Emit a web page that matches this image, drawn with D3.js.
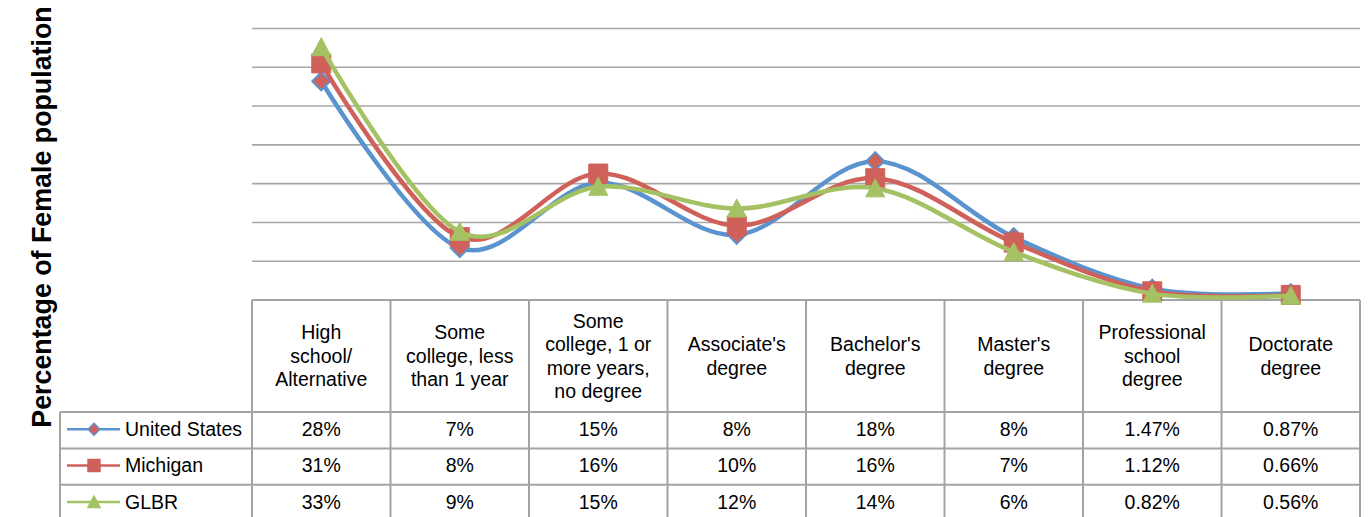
<!DOCTYPE html>
<html>
<head>
<meta charset="utf-8">
<script src="https://cdn.jsdelivr.net/npm/d3@7"></script>
<style>
  body { margin: 0; background: #fff; }
  svg { display: block; font-family: "Liberation Sans", Arial, Helvetica, sans-serif; }
</style>
</head>
<body>
<div id="chart"></div>
<script>
// education levels (x categories), with header text split as in the table
var categories = ["High school/ Alternative", "Some college, less than 1 year",
    "Some college, 1 or more years, no degree", "Associate's degree", "Bachelor's degree",
    "Master's degree", "Professional school degree", "Doctorate degree"];
var headerLines = [
    ["High", "school/", "Alternative"],
    ["Some", "college, less", "than 1 year"],
    ["Some", "college, 1 or", "more years,", "no degree"],
    ["Associate's", "degree"],
    ["Bachelor's", "degree"],
    ["Master's", "degree"],
    ["Professional", "school", "degree"],
    ["Doctorate", "degree"]
];

var seriesNames = ["United States", "Michigan", "GLBR"];

// percent of female population
var usValues = [28.2, 6.7, 15.1, 8.4, 17.9, 8.1, 1.47, 0.87];
var michiganValues = [30.5, 8.1, 16.3, 9.6, 15.7, 7.4, 1.12, 0.66];
var glbrValues = [32.6, 8.8, 14.6, 11.8, 14.4, 6.2, 0.82, 0.56];

// table text
var usLabels = ["28%", "7%", "15%", "8%", "18%", "8%", "1.47%", "0.87%"];
var michiganLabels = ["31%", "8%", "16%", "10%", "16%", "7%", "1.12%", "0.66%"];
var glbrLabels = ["33%", "9%", "15%", "12%", "14%", "6%", "0.82%", "0.56%"];

var yTicks = [0, 5, 10, 15, 20, 25, 30, 35];

var width = 1368, height = 517;
var plot = {left: 252, right: 1360, top: 28.5, bottom: 300};
var legendLeft = 60;
var headerBottom = 412, rowH = 36.4;
var fontSize = 19.5, lineH = 23.5;
var gridColor = "#a6a6a6", borderColor = "#a3a3a3";

var colors = {blue: "#5b93cf", red: "#d0605a", green: "#a4c263"};

var series = [
    {name: seriesNames[0], values: usValues, labels: usLabels, stroke: colors.blue, fill: colors.red, mstroke: colors.blue, shape: "diamond"},
    {name: seriesNames[1], values: michiganValues, labels: michiganLabels, stroke: colors.red, fill: colors.red, mstroke: colors.red, shape: "square"},
    {name: seriesNames[2], values: glbrValues, labels: glbrLabels, stroke: colors.green, fill: colors.green, mstroke: colors.green, shape: "triangle"}
];

var x = d3.scaleBand().domain(categories).range([plot.left, plot.right]);
var y = d3.scaleLinear().domain([0, 35]).range([plot.bottom, plot.top]);

var svg = d3.select("#chart").append("svg")
    .attr("width", width)
    .attr("height", height);

function markerPath(shape, s) {
    var h = s / 2;
    if (shape == "diamond") return "M0," + (-h) + "L" + h + ",0L0," + h + "L" + (-h) + ",0Z";
    if (shape == "square") return "M" + (-h) + "," + (-h) + "H" + h + "V" + h + "H" + (-h) + "Z";
    return "M0," + (-h) + "L" + h + "," + (h * 0.9) + "L" + (-h) + "," + (h * 0.9) + "Z";
}

// gridlines
svg.append("g").selectAll("line")
    .data(yTicks.slice(1))
    .enter().append("line")
    .attr("x1", plot.left).attr("x2", plot.right)
    .attr("y1", function(d) { return y(d); })
    .attr("y2", function(d) { return y(d); })
    .attr("stroke", gridColor)
    .attr("stroke-width", 1.6);

// y title
svg.append("text")
    .attr("transform", "translate(51,217) rotate(-90)")
    .attr("text-anchor", "middle")
    .attr("font-size", 26.8)
    .attr("font-weight", "bold")
    .attr("fill", "#000")
    .text("Percentage of Female population");

// data table
var table = svg.append("g").attr("stroke", borderColor).attr("stroke-width", 2);
var tableBottom = headerBottom + rowH * series.length;
var xEdges = categories.map(function(c) { return x(c); }).concat([plot.right]);
table.selectAll("line.v")
    .data(xEdges)
    .enter().append("line")
    .attr("x1", function(d) { return d; }).attr("x2", function(d) { return d; })
    .attr("y1", plot.bottom).attr("y2", tableBottom);
table.append("line")
    .attr("x1", plot.left).attr("x2", plot.right)
    .attr("y1", plot.bottom).attr("y2", plot.bottom);
table.append("line")
    .attr("x1", legendLeft).attr("x2", legendLeft)
    .attr("y1", headerBottom).attr("y2", tableBottom);
table.selectAll("line.h")
    .data(d3.range(series.length + 1))
    .enter().append("line")
    .attr("x1", legendLeft).attr("x2", plot.right)
    .attr("y1", function(i) { return headerBottom + i * rowH; })
    .attr("y2", function(i) { return headerBottom + i * rowH; });

// header text
var headMid = (plot.bottom + headerBottom) / 2;
var head = svg.append("g")
    .attr("font-size", fontSize)
    .attr("text-anchor", "middle")
    .attr("fill", "#000");
categories.forEach(function(c, i) {
    var lines = headerLines[i];
    var t = head.append("text")
        .attr("x", x(c) + x.bandwidth() / 2)
        .attr("y", headMid - (lines.length - 1) * lineH / 2)
        .attr("dy", "0.35em");
    lines.forEach(function(l, j) {
        t.append("tspan")
            .attr("x", x(c) + x.bandwidth() / 2)
            .attr("dy", j == 0 ? "0.35em" : lineH)
            .text(l);
    });
});

// rows: legend key + values
series.forEach(function(s, i) {
    var cy = headerBottom + rowH * i + rowH / 2 - 1;
    var row = svg.append("g");
    row.append("line")
        .attr("x1", 67).attr("x2", 120)
        .attr("y1", cy).attr("y2", cy)
        .attr("stroke", s.stroke)
        .attr("stroke-width", 2.5);
    row.append("path")
        .attr("d", markerPath(s.shape, 12))
        .attr("transform", "translate(94," + cy + ")")
        .attr("fill", s.fill)
        .attr("stroke", s.mstroke)
        .attr("stroke-width", 1.5);
    row.append("text")
        .attr("x", 125).attr("y", cy)
        .attr("dy", "0.35em")
        .attr("font-size", fontSize)
        .text(s.name);
    row.selectAll("text.v")
        .data(s.labels)
        .enter().append("text")
        .attr("x", function(d, j) { return x(categories[j]) + x.bandwidth() / 2; })
        .attr("y", cy)
        .attr("dy", "0.35em")
        .attr("text-anchor", "middle")
        .attr("font-size", fontSize)
        .text(function(d) { return d; });
});

// lines
var line = d3.line()
    .x(function(d, j) { return x(categories[j]) + x.bandwidth() / 2; })
    .y(function(d) { return y(d); })
    .curve(d3.curveCatmullRom.alpha(0));

series.forEach(function(s) {
    var g = svg.append("g");
    g.append("path")
        .datum(s.values)
        .attr("d", line)
        .attr("fill", "none")
        .attr("stroke", s.stroke)
        .attr("stroke-width", 4.5)
        .attr("stroke-linejoin", "round");
    g.selectAll("path.m")
        .data(s.values)
        .enter().append("path")
        .attr("d", markerPath(s.shape, s.shape == "diamond" ? 18 : 19))
        .attr("transform", function(d, j) {
            return "translate(" + (x(categories[j]) + x.bandwidth() / 2) + "," + y(d) + ")";
        })
        .attr("fill", s.fill)
        .attr("stroke", s.mstroke)
        .attr("stroke-width", s.shape == "diamond" ? 2 : 1);
});
</script>
</body>
</html>
